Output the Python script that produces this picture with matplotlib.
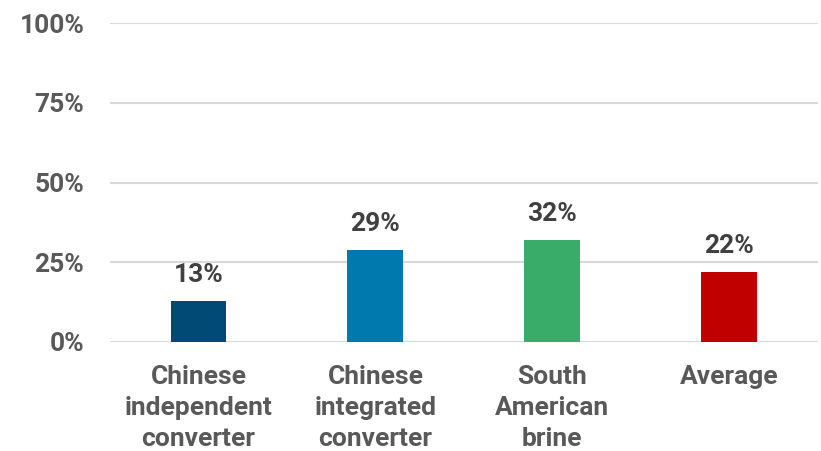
import matplotlib
matplotlib.use("Agg")
import matplotlib.pyplot as plt
import numpy as np

categories = ["Chinese\nindependent\nconverter", "Chinese\nintegrated\nconverter",
              "South\nAmerican\nbrine", "Average"]
values = [13, 29, 32, 22]
colors = ["#004a75", "#0079ae", "#3aac69", "#c00000"]
yticks = [0, 25, 50, 75, 100]

plt.rcParams['font.family'] = ['Roboto', 'DejaVu Sans']

fig = plt.figure(figsize=(8.21, 4.51), dpi=100)
ax = fig.add_axes([0.134, 0.2417, 0.862, 0.707])

x = np.arange(len(categories))
ax.bar(x, values, width=0.316, color=colors, zorder=3)

for xi, v in zip(x, values):
    ax.text(xi, v + 4.3, f"{v}%", ha='center', va='bottom', fontsize=19,
            fontweight='bold', color='#404040')

ax.set_xlim(-0.5, 3.5)
ax.set_ylim(0, 100)
ax.set_yticks(yticks)
ax.set_yticklabels([f"{t}%" for t in yticks])
ax.set_xticks(x)
ax.set_xticklabels(categories, linespacing=1.36)

ax.grid(axis='y', color='#d9d9d9', linewidth=1.5, zorder=0)
for s in ax.spines.values():
    s.set_visible(False)
ax.tick_params(axis='both', length=0, labelsize=19, colors='#595959')
ax.tick_params(axis='y', pad=18.5)
ax.tick_params(axis='x', pad=16.5)
for lab in ax.get_xticklabels() + ax.get_yticklabels():
    lab.set_fontweight('bold')

fig.savefig("out.png", dpi=100)
